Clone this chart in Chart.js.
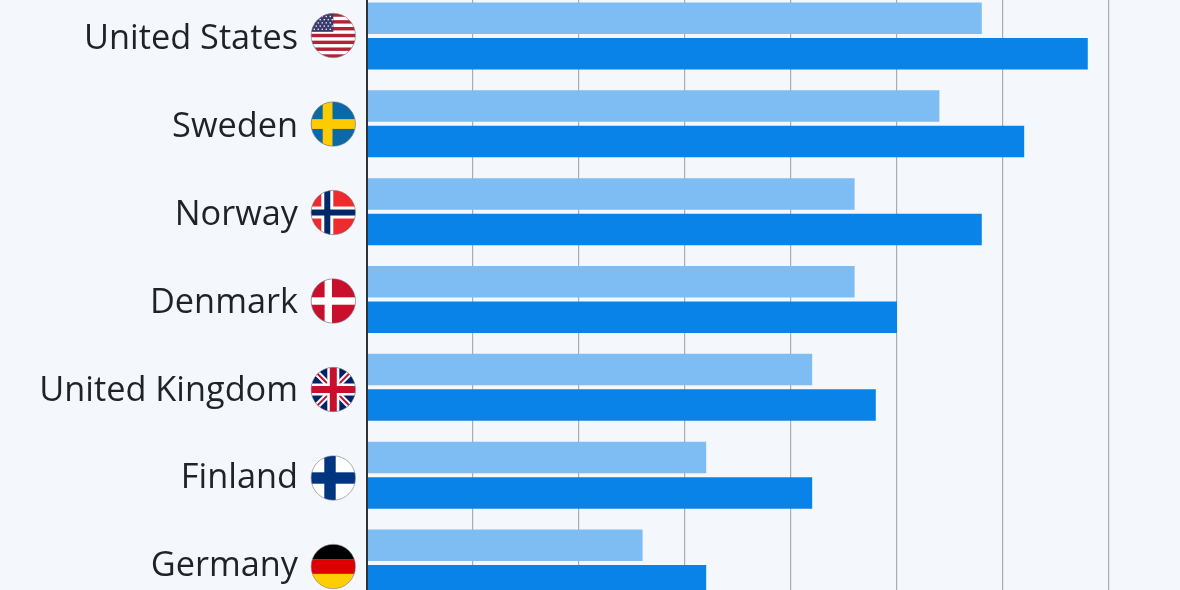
<!DOCTYPE html>
<html>
<head>
<meta charset="utf-8">
<script src="https://cdn.jsdelivr.net/npm/chart.js@4/dist/chart.umd.min.js"></script>
<style>
  html, body { margin: 0; width: 1180px; height: 590px; overflow: hidden; background: #f4f8fc; }
  #chart { position: absolute; left: 0; top: -8px; }
</style>
</head>
<body>
<canvas id="chart" width="1180" height="615"></canvas>
<script>
const countries = ['United States', 'Sweden', 'Norway', 'Denmark', 'United Kingdom', 'Finland', 'Germany'];
const earlierValues = [5.8, 5.4, 4.6, 4.6, 4.2, 3.2, 2.6];
const laterValues = [6.8, 6.2, 5.8, 5.0, 4.8, 4.2, 3.2];
const xMax = 7.67;

const FLAG_R = 22.2;
const FLAG_X = 333.3;

function cross(ctx, x, y, r, vx, hw, color) {
  ctx.fillStyle = color;
  ctx.fillRect(x + vx - hw, y - r, hw * 2, r * 2);
  ctx.fillRect(x - r, y - hw, r * 2, hw * 2);
}

const flags = {
  'United States'(ctx, x, y, r) {
    ctx.fillStyle = '#fff';
    ctx.fillRect(x - r, y - r, r * 2, r * 2);
    ctx.fillStyle = '#b22234';
    const h = (r * 2) / 13;
    for (let i = 0; i < 13; i += 2) ctx.fillRect(x - r, y - r + i * h, r * 2, h);
    ctx.fillStyle = '#3c3b6e';
    ctx.fillRect(x - r, y - r, r, 18.5);
    ctx.fillStyle = '#fff';
    for (let row = 0; row < 5; row++) {
      for (let col = 0; col < 5; col++) {
        ctx.fillRect(x - r + 2.5 + col * 4 + (row % 2) * 2, y - r + 2.5 + row * 3.2, 1.3, 1.3);
      }
    }
  },
  Sweden(ctx, x, y, r) {
    ctx.fillStyle = '#0a6aa8';
    ctx.fillRect(x - r, y - r, r * 2, r * 2);
    cross(ctx, x, y, r, -5.7, 4.9, '#fecb00');
  },
  Norway(ctx, x, y, r) {
    ctx.fillStyle = '#ef2b2d';
    ctx.fillRect(x - r, y - r, r * 2, r * 2);
    cross(ctx, x, y, r, -6, 6, '#fff');
    cross(ctx, x, y, r, -6, 3, '#002868');
  },
  Denmark(ctx, x, y, r) {
    ctx.fillStyle = '#c8102e';
    ctx.fillRect(x - r, y - r, r * 2, r * 2);
    cross(ctx, x, y, r, -5, 3.7, '#fff');
  },
  'United Kingdom'(ctx, x, y, r) {
    ctx.fillStyle = '#012169';
    ctx.fillRect(x - r, y - r, r * 2, r * 2);
    ctx.lineWidth = 6;
    ctx.strokeStyle = '#fff';
    ctx.beginPath();
    ctx.moveTo(x - r, y - r); ctx.lineTo(x + r, y + r);
    ctx.moveTo(x + r, y - r); ctx.lineTo(x - r, y + r);
    ctx.stroke();
    ctx.lineWidth = 2;
    ctx.strokeStyle = '#c8102e';
    ctx.stroke();
    cross(ctx, x, y, r, 0, 6, '#fff');
    cross(ctx, x, y, r, 0, 3.5, '#c8102e');
  },
  Finland(ctx, x, y, r) {
    ctx.fillStyle = '#fff';
    ctx.fillRect(x - r, y - r, r * 2, r * 2);
    cross(ctx, x, y, r, -3.3, 5.7, '#003580');
  },
  Germany(ctx, x, y, r) {
    const h = (r * 2) / 3;
    ctx.fillStyle = '#000';
    ctx.fillRect(x - r, y - r, r * 2, h);
    ctx.fillStyle = '#dd0000';
    ctx.fillRect(x - r, y - r + h, r * 2, h);
    ctx.fillStyle = '#ffce00';
    ctx.fillRect(x - r, y - r + h * 2, r * 2, h);
  },
};

const flagPlugin = {
  id: 'flags',
  afterDraw(chart) {
    const { ctx, scales } = chart;
    countries.forEach((name, i) => {
      // flags sit on a slightly wider rhythm than the bars
      const y = scales.y.getPixelForTick(i) - 0.4 + i * 0.64;
      ctx.save();
      ctx.beginPath();
      ctx.arc(FLAG_X, y, FLAG_R, 0, Math.PI * 2);
      ctx.clip();
      flags[name](ctx, FLAG_X, y, FLAG_R);
      ctx.restore();
      ctx.beginPath();
      ctx.arc(FLAG_X, y, FLAG_R, 0, Math.PI * 2);
      ctx.strokeStyle = 'rgba(120, 120, 130, 0.6)';
      ctx.lineWidth = 1;
      ctx.stroke();
    });
  },
};

new Chart(document.getElementById('chart'), {
  type: 'bar',
  data: {
    labels: countries,
    datasets: [
      { label: 'Earlier', data: earlierValues, backgroundColor: '#7dbdf3' },
      { label: 'Later', data: laterValues, backgroundColor: '#0a83e8' },
    ],
  },
  options: {
    indexAxis: 'y',
    responsive: false,
    animation: false,
    categoryPercentage: 0.808,
    barPercentage: 0.887,
    layout: { padding: 0 },
    plugins: { legend: { display: false }, tooltip: { enabled: false } },
    scales: {
      x: {
        min: 0,
        max: xMax,
        // no gridline at the cut-off right edge
        afterBuildTicks(scale) { scale.ticks = scale.ticks.filter(t => t.value <= 7); },
        ticks: { display: false, stepSize: 1 },
        border: { display: false },
        grid: { color: '#a9adb2', lineWidth: 1.2, drawTicks: false },
      },
      y: {
        afterFit(scale) {
          scale.width = 367;
          // tick padding would otherwise also pad the top and bottom of the plot
          scale.paddingTop = 0;
          scale.paddingBottom = 0;
        },
        ticks: { color: '#1f2328', padding: 61, labelOffset: 3.5, font: { family: 'Open Sans', size: 34.3 } },
        border: { color: '#2e3338', width: 2, z: 1 },
        grid: { display: false },
      },
    },
  },
  plugins: [flagPlugin],
});
</script>
</body>
</html>
